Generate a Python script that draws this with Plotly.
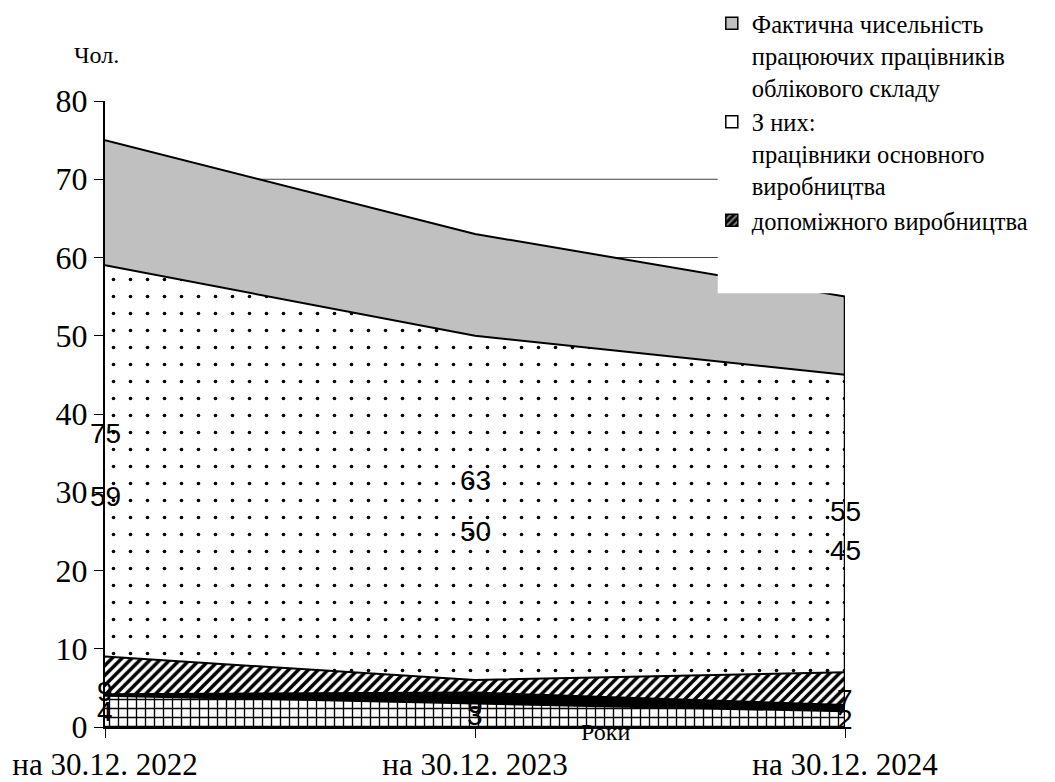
import plotly.graph_objects as go

years = ["на 30.12. 2022", "на 30.12. 2023", "на 30.12. 2024"]
total = [75, 63, 55]
main_prod = [59, 50, 45]
aux_prod = [9, 6, 7]
other_dark = [4.2, 4.4, 2.8]
other_brick = [4, 3, 2]
y_ticks = [0, 10, 20, 30, 40, 50, 60, 70, 80]
grid_vals = [10, 20, 30, 40, 50, 60, 70]

legend_names = [
    "Фактична чисельність<br>працюючих працівників<br>облікового складу",
    "З них:<br>працівники основного<br>виробництва",
    "допоміжного виробництва",
]

SERIF = "Liberation Serif, Times New Roman, serif"
SANS = "Liberation Sans, Arial, sans-serif"

fig = go.Figure()

# area layers (overlapping, drawn back to front)
fig.add_trace(go.Scatter(x=years, y=total, fill="tozeroy", mode="lines",
                         line=dict(color="black", width=2), fillcolor="#c0c0c0",
                         showlegend=False, hoverinfo="skip"))
fig.add_trace(go.Scatter(x=years, y=main_prod, fill="tozeroy", mode="lines",
                         line=dict(color="black", width=2),
                         fillpattern=dict(shape=".", fgcolor="black", bgcolor="white",
                                          size=17, solidity=0.035, fillmode="replace"),
                         showlegend=False, hoverinfo="skip"))
fig.add_trace(go.Scatter(x=years, y=aux_prod, fill="tozeroy", mode="lines",
                         line=dict(color="black", width=2),
                         fillpattern=dict(shape="/", fgcolor="black", bgcolor="white",
                                          size=7, solidity=0.5, fillmode="replace"),
                         showlegend=False, hoverinfo="skip"))
fig.add_trace(go.Scatter(x=years, y=other_dark, fill="tozeroy", mode="lines",
                         line=dict(color="black", width=2), fillcolor="black",
                         showlegend=False, hoverinfo="skip"))
fig.add_trace(go.Scatter(x=years, y=other_brick, fill="tozeroy", mode="lines",
                         line=dict(color="black", width=2),
                         fillpattern=dict(shape="+", fgcolor="black", bgcolor="white",
                                          size=9, solidity=0.28, fillmode="replace"),
                         showlegend=False, hoverinfo="skip"))

# legend entries
fig.add_trace(go.Bar(x=[None], y=[None], name=legend_names[0],
                     marker=dict(color="#c0c0c0", line=dict(color="black", width=1.5))))
fig.add_trace(go.Bar(x=[None], y=[None], name=legend_names[1],
                     marker=dict(color="white", line=dict(color="black", width=1.5))))
fig.add_trace(go.Bar(x=[None], y=[None], name=legend_names[2],
                     marker=dict(color="black", line=dict(color="black", width=1.5),
                                 pattern=dict(shape="/", fgcolor="white", bgcolor="black",
                                              size=6, solidity=0.4))))

# data labels at half height (Excel area style)
for series in [total, main_prod, aux_prod, other_brick]:
    for xc, v in zip(years, series):
        fig.add_annotation(x=xc, y=v / 2, text=str(v), showarrow=False,
                           font=dict(family=SANS, size=28, color="black"))

# gridlines (behind areas)
for g in grid_vals:
    fig.add_shape(type="line", xref="paper", x0=0, x1=1, yref="y", y0=g, y1=g,
                  line=dict(color="#404040", width=1.2), layer="below")

# right-hand vertical edge of the area block
fig.add_shape(type="line", xref="x", x0=years[-1], x1=years[-1], yref="y",
              y0=0, y1=total[-1], line=dict(color="black", width=2.5), layer="above")

# white legend box area covering part of the plot
fig.add_shape(type="rect", xref="paper", yref="paper", x0=0.828, x1=1.3, y0=0.693, y1=1.2,
              fillcolor="white", line=dict(width=0), layer="above")

fig.add_annotation(xref="paper", yref="paper", x=-0.011, y=1.073, text="Чол.",
                   xanchor="center", yanchor="middle",
                   showarrow=False, font=dict(family=SERIF, size=24, color="black"))
fig.add_annotation(xref="paper", yref="paper", x=0.677, y=-0.008, text="Роки",
                   xanchor="center", yanchor="middle",
                   showarrow=False, font=dict(family=SERIF, size=24, color="black"))

# page body has an 8px margin, so the figure is 8px smaller and margins shifted
fig.update_layout(
    width=1047, height=774,
    margin=dict(l=97, r=210, t=93, b=55, autoexpand=False),
    plot_bgcolor="white", paper_bgcolor="white",
    showlegend=True,
    legend=dict(x=0.82, y=1.16, xanchor="left", yanchor="top", valign="top",
                bgcolor="rgba(0,0,0,0)", font=dict(family=SERIF, size=24.5, color="black"),
                tracegroupgap=0, itemwidth=30),
    xaxis=dict(type="category", range=[0, 2], showgrid=False, showline=True,
               linecolor="black", linewidth=1.5, ticks="outside", ticklen=9,
               tickcolor="black", automargin=False,
               tickfont=dict(family=SERIF, size=31, color="black")),
    yaxis=dict(range=[0, 80], tickvals=y_ticks, showgrid=False, zeroline=False,
               showline=True, linecolor="black", linewidth=2, ticks="outside",
               ticklen=9, tickcolor="black", automargin=False,
               tickfont=dict(family=SERIF, size=32, color="black")),
)

fig.write_html("out.html")
